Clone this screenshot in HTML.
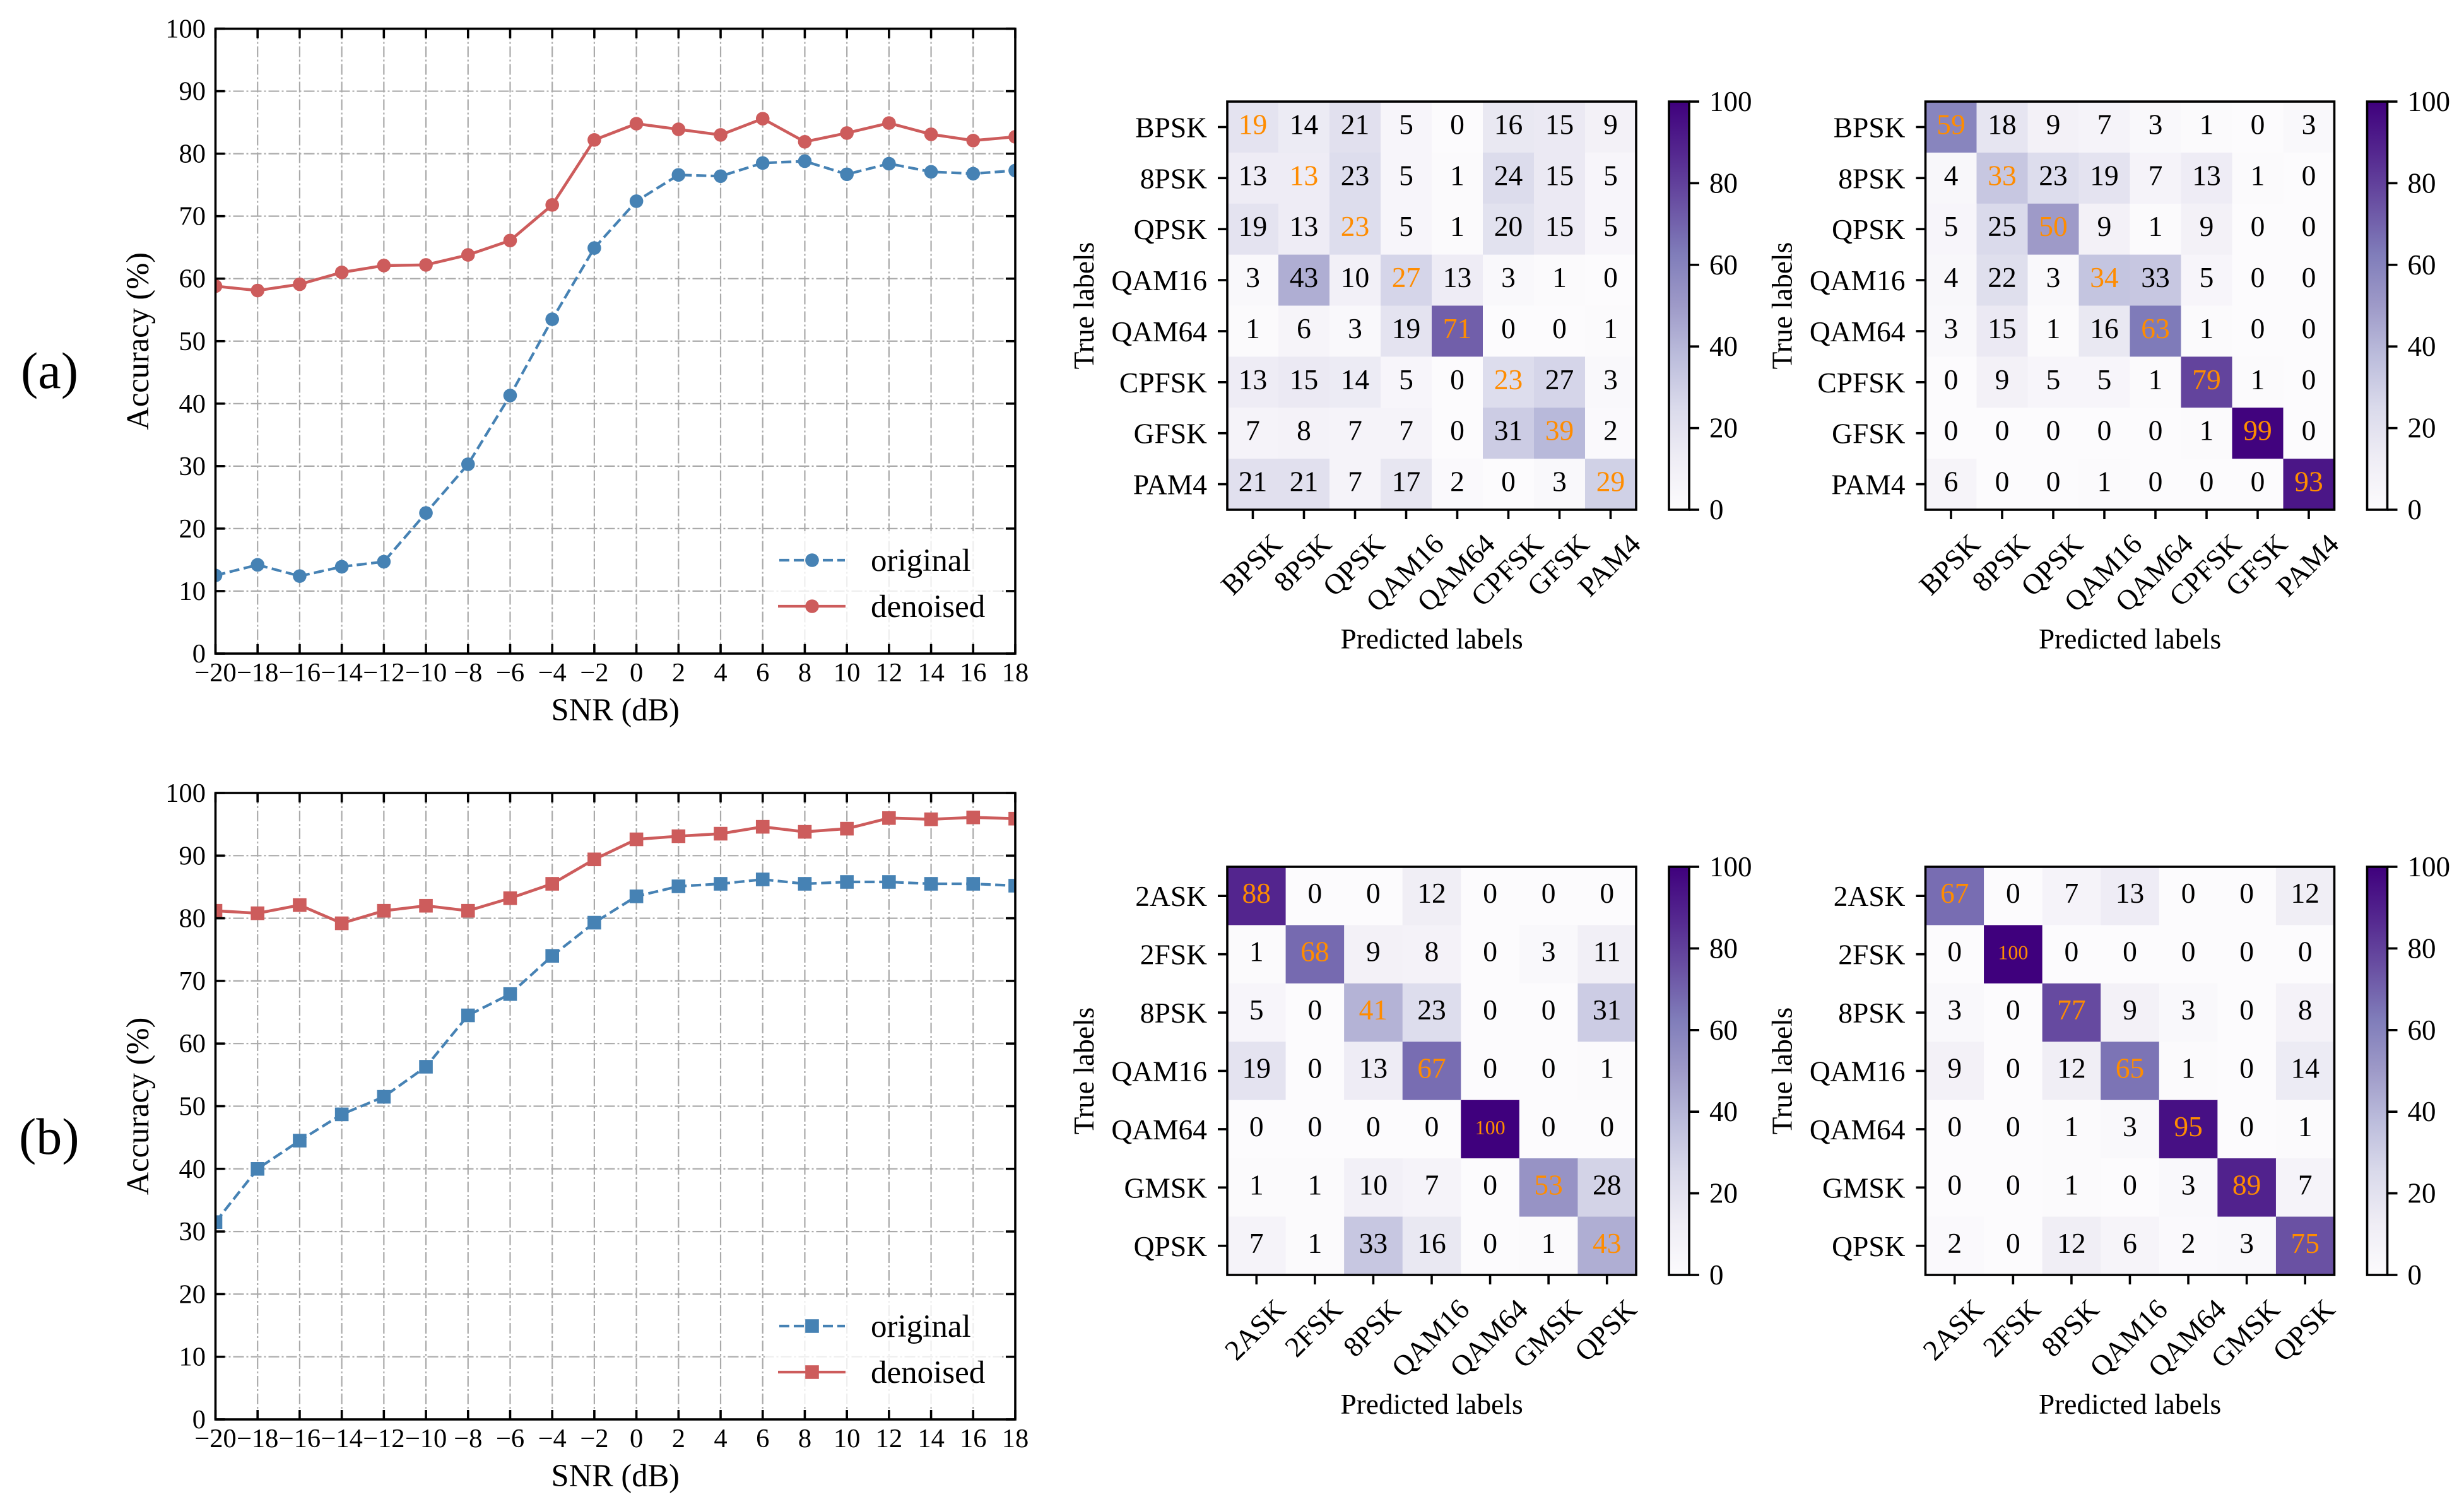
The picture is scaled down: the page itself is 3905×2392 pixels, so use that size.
<!DOCTYPE html>
<html lang="en">
<head>
<meta charset="utf-8">
<title>Accuracy curves and confusion matrices</title>
<style>
html,body{margin:0;padding:0;background:#fff;}
svg{display:block;font-family:"Liberation Serif",serif;}
</style>
</head>
<body>
<svg id="figure" xmlns="http://www.w3.org/2000/svg" width="3905" height="2392" viewBox="0 0 3905 2392">
  <defs id="defs">
    <linearGradient id="purples-gradient" x1="0" y1="1" x2="0" y2="0"></linearGradient>
  </defs>
  <rect x="0" y="0" width="3905" height="2392" fill="#fff"></rect>
  <text x="33" y="615" font-size="82" fill="#000">(a)</text>
  <text x="30" y="1829" font-size="82" fill="#000">(b)</text>
  <g id="line-chart-a"></g>
  <g id="line-chart-b"></g>
  <g id="matrix-a-original"></g>
  <g id="matrix-a-denoised"></g>
  <g id="matrix-b-original"></g>
  <g id="matrix-b-denoised"></g>
</svg>
<script>
/* ---------- data ---------- */
const snrValues = [-20,-18,-16,-14,-12,-10,-8,-6,-4,-2,0,2,4,6,8,10,12,14,16,18];
const accuracyTicks = [0,10,20,30,40,50,60,70,80,90,100];
const seriesNames = ['original','denoised'];

const originalA = [12.5,14.2,12.4,13.9,14.7,22.5,30.3,41.3,53.5,64.9,72.4,76.6,76.4,78.5,78.8,76.7,78.4,77.1,76.8,77.3];
const denoisedA = [58.8,58.1,59.1,61.0,62.1,62.2,63.8,66.1,71.8,82.2,84.8,83.9,83.0,85.6,81.9,83.3,84.9,83.1,82.1,82.7];
const originalB = [31.5,40.0,44.5,48.7,51.5,56.3,64.5,67.9,74.0,79.3,83.5,85.1,85.5,86.2,85.5,85.8,85.8,85.5,85.5,85.2];
const denoisedB = [81.2,80.8,82.1,79.2,81.2,82.0,81.2,83.2,85.5,89.4,92.6,93.1,93.5,94.6,93.8,94.3,96.0,95.8,96.1,95.9];

const classesA = ['BPSK','8PSK','QPSK','QAM16','QAM64','CPFSK','GFSK','PAM4'];
const classesB = ['2ASK','2FSK','8PSK','QAM16','QAM64','GMSK','QPSK'];
const colorbarTicks = [0,20,40,60,80,100];

const matrixAOriginal = [
  [19,14,21,5,0,16,15,9],
  [13,13,23,5,1,24,15,5],
  [19,13,23,5,1,20,15,5],
  [3,43,10,27,13,3,1,0],
  [1,6,3,19,71,0,0,1],
  [13,15,14,5,0,23,27,3],
  [7,8,7,7,0,31,39,2],
  [21,21,7,17,2,0,3,29]
];
const matrixADenoised = [
  [59,18,9,7,3,1,0,3],
  [4,33,23,19,7,13,1,0],
  [5,25,50,9,1,9,0,0],
  [4,22,3,34,33,5,0,0],
  [3,15,1,16,63,1,0,0],
  [0,9,5,5,1,79,1,0],
  [0,0,0,0,0,1,99,0],
  [6,0,0,1,0,0,0,93]
];
const matrixBOriginal = [
  [88,0,0,12,0,0,0],
  [1,68,9,8,0,3,11],
  [5,0,41,23,0,0,31],
  [19,0,13,67,0,0,1],
  [0,0,0,0,100,0,0],
  [1,1,10,7,0,53,28],
  [7,1,33,16,0,1,43]
];
const matrixBDenoised = [
  [67,0,7,13,0,0,12],
  [0,100,0,0,0,0,0],
  [3,0,77,9,3,0,8],
  [9,0,12,65,1,0,14],
  [0,0,1,3,95,0,1],
  [0,0,1,0,3,89,7],
  [2,0,12,6,2,3,75]
];

const purplesColors = ['#fcfbfd','#efedf5','#dadaeb','#bcbddc','#9e9ac8','#807dba','#6a51a3','#54278f','#3f007d'];

/* ---------- layout ---------- */
const NS = 'http://www.w3.org/2000/svg';
const SPINE = 3.6;
const BLUE = '#4682b4';
const RED = '#cd5c5c';
const ORANGE = '#ff8c00';

function make(tag, parent, attrs, content) {
  const node = document.createElementNS(NS, tag);
  for (const key in attrs) node.setAttribute(key, attrs[key]);
  if (content !== undefined) node.textContent = content;
  parent.appendChild(node);
  return node;
}

function linearAxis(d0, d1, r0, r1) {
  return v => r0 + (v - d0) / (d1 - d0) * (r1 - r0);
}

function purpleColor(value) {
  const t = Math.max(0, Math.min(1, value / 100)) * (purplesColors.length - 1);
  const i = Math.min(Math.floor(t), purplesColors.length - 2);
  const f = t - i;
  const a = purplesColors[i], b = purplesColors[i + 1];
  const channel = s => [1,3,5].map(p => parseInt(s.substr(p, 2), 16));
  const ca = channel(a), cb = channel(b);
  return 'rgb(' + ca.map((c, k) => Math.round(c + (cb[k] - c) * f)).join(',') + ')';
}

function drawLineChart(root, box, original, denoised, markerKind, clipId) {
  const x = linearAxis(-20, 18, box.left, box.right);
  const y = linearAxis(0, 100, box.bottom, box.top);

  const clip = make('clipPath', document.getElementById('defs'), {id: clipId});
  make('rect', clip, {x: box.left, y: box.top, width: box.right - box.left, height: box.bottom - box.top});

  accuracyTicks.forEach(v => {
    const g = make('line', root, {x1: box.left, x2: box.right, y1: y(v), y2: y(v), stroke: '#aaaaaa', 'stroke-width': 2.2, 'stroke-dasharray': '17 4 3 4'});
    
    
  });
  snrValues.forEach(v => {
    const g = make('line', root, {x1: x(v), x2: x(v), y1: box.top, y2: box.bottom, stroke: '#aaaaaa', 'stroke-width': 2.2, 'stroke-dasharray': '17 4 3 4'});
    
    
  });

  function drawMarker(parent, cx, cy, color) {
    if (markerKind === 'circle') {
      return make('circle', parent, {cx: cx, cy: cy, r: 10.8, fill: color});
    }
    return make('rect', parent, {x: cx - 10.8, y: cy - 10.8, width: 21.6, height: 21.6, fill: color});
  }

  const plot = make('g', root, {'clip-path': 'url(#' + clipId + ')'});
  
  

  [[original, BLUE, '16 7', 'original', 4.2], [denoised, RED, 'none', 'denoised', 4.6]].forEach(s => {
    const pts = s[0].map((v, i) => x(snrValues[i]) + ',' + y(v)).join(' ');
    const line = make('polyline', plot, {points: pts, fill: 'none', stroke: s[1], 'stroke-width': s[4], 'stroke-dasharray': s[2], 'stroke-linejoin': 'round'});
    
    
    s[0].forEach((v, i) => {
      const m = drawMarker(plot, x(snrValues[i]), y(v), s[1]);
      
      
    });
  });

  const legend = make('g', root, {});
  
  
  const legendBg = make('rect', legend, {x: 1212, y: box.bottom - 194, width: 376, height: 173, fill: '#fff', 'fill-opacity': 0.8});
  
  
  seriesNames.forEach((name, i) => {
    const ly = box.bottom - (i === 0 ? 148 : 75);
    const color = i === 0 ? BLUE : RED;
    const key = make('line', legend, {x1: i === 0 ? 1235 : 1233, x2: i === 0 ? 1339 : 1340, y1: ly, y2: ly, stroke: color, 'stroke-width': 4.2, 'stroke-dasharray': i === 0 ? '16 7' : 'none'});
    
    
    const keyMark = drawMarker(legend, 1287, ly, color);
    
    
    const label = make('text', legend, {x: 1380, y: ly + 17, 'font-size': 51, fill: '#000'}, name);
    
    
  });

  accuracyTicks.forEach(v => {
    [[box.left, box.left + 15], [box.right, box.right - 15]].forEach(p => {
      const t = make('line', root, {x1: p[0], x2: p[1], y1: y(v), y2: y(v), stroke: '#000', 'stroke-width': SPINE});
      
      
    });
    const label = make('text', root, {x: 326, y: y(v) + 14, 'font-size': 42.5, 'text-anchor': 'end', fill: '#000'}, String(v));
    
    
  });
  snrValues.forEach(v => {
    [[box.bottom, box.bottom - 15], [box.top, box.top + 15]].forEach(p => {
      const t = make('line', root, {x1: x(v), x2: x(v), y1: p[0], y2: p[1], stroke: '#000', 'stroke-width': SPINE});
      
      
    });
    const label = make('text', root, {x: x(v), y: box.bottom + 44, 'font-size': 42.5, 'text-anchor': 'middle', fill: '#000'}, String(v).replace('-', '\u2212'));
    
    
  });

  const frame = make('rect', root, {x: box.left, y: box.top, width: box.right - box.left, height: box.bottom - box.top, fill: 'none', stroke: '#000', 'stroke-width': SPINE});
  
  

  const xTitle = make('text', root, {x: (box.left + box.right) / 2, y: box.bottom + 106, 'font-size': 50.5, 'text-anchor': 'middle', fill: '#000'}, 'SNR (dB)');
  
  

  const midY = (box.top + box.bottom) / 2;
  const yTitle = make('text', root, {x: 235, y: midY, 'font-size': 50.5, 'text-anchor': 'middle', fill: '#000', transform: 'rotate(-90 235 ' + midY + ')'}, 'Accuracy (%)');
  
  
}

function drawMatrix(root, box, classes, matrix) {
  const n = classes.length;
  const cellX = linearAxis(0, n, box.left, box.right);
  const cellY = linearAxis(0, n, box.top, box.bottom);

  matrix.forEach((row, r) => {
    row.forEach((value, c) => {
      const cell = make('rect', root, {x: cellX(c), y: cellY(r), width: cellX(c + 1) - cellX(c) + 0.5, height: cellY(r + 1) - cellY(r) + 0.5, fill: purpleColor(value)});
      
      
    });
  });
  matrix.forEach((row, r) => {
    row.forEach((value, c) => {
      const small = value === 100;
      const label = make('text', root, {
        x: cellX(c + 0.5),
        y: cellY(r + 0.5) + (small ? 8 : 11),
        'font-size': small ? 32 : 45.5,
        'text-anchor': 'middle',
        fill: r === c ? ORANGE : '#000'
      }, String(value));
      
      
    });
  });

  const frame = make('rect', root, {x: box.left, y: box.top, width: box.right - box.left, height: box.bottom - box.top, fill: 'none', stroke: '#000', 'stroke-width': SPINE});
  
  

  classes.forEach((name, i) => {
    const cy = cellY(i + 0.5);
    const yt = make('line', root, {x1: box.left - 15, x2: box.left, y1: cy, y2: cy, stroke: '#000', 'stroke-width': SPINE});
    
    
    const yl = make('text', root, {x: box.left - 32, y: cy + 16, 'font-size': 45.5, 'text-anchor': 'end', fill: '#000'}, name);
    
    

    const cx = cellX(i + 0.5);
    const xt = make('line', root, {x1: cx, x2: cx, y1: box.bottom, y2: box.bottom + 15, stroke: '#000', 'stroke-width': SPINE});
    
    
    const xl = make('text', root, {x: 0, y: 15, 'font-size': 45.5, 'text-anchor': 'middle', fill: '#000'}, name);
    
    
    const w = xl.getComputedTextLength();
    const centerY = box.bottom + 36 + (w + 30) * Math.SQRT1_2 / 2;
    xl.setAttribute('transform', 'translate(' + (cx - 2) + ' ' + centerY + ') rotate(-45)');
  });

  const xTitle = make('text', root, {x: (box.left + box.right) / 2, y: box.bottom + 220, 'font-size': 45.5, 'text-anchor': 'middle', fill: '#000'}, 'Predicted labels');
  
  

  const midY = (box.top + box.bottom) / 2;
  const yTx = box.left - 212;
  const yTitle = make('text', root, {x: yTx, y: midY, 'font-size': 45.5, 'text-anchor': 'middle', fill: '#000', transform: 'rotate(-90 ' + yTx + ' ' + midY + ')'}, 'True labels');
  
  

  /* colorbar */
  const cbLeft = box.right + 52;
  const cbRight = cbLeft + 32;
  const cbY = linearAxis(0, 100, box.bottom, box.top);
  const bar = make('rect', root, {x: cbLeft, y: box.top, width: cbRight - cbLeft, height: box.bottom - box.top, fill: 'url(#purples-gradient)', stroke: '#000', 'stroke-width': SPINE});
  
  
  colorbarTicks.forEach(v => {
    const t = make('line', root, {x1: cbRight, x2: cbRight + 16, y1: cbY(v), y2: cbY(v), stroke: '#000', 'stroke-width': SPINE});
    
    
    const l = make('text', root, {x: cbRight + 32, y: cbY(v) + 15, 'font-size': 45, fill: '#000'}, String(v));
    
    
  });
}

const gradient = document.getElementById('purples-gradient');
purplesColors.forEach((color, i) => {
  make('stop', gradient, {offset: i / (purplesColors.length - 1), 'stop-color': color});
});

drawLineChart(document.getElementById('line-chart-a'), {left: 341.5, right: 1609, top: 45.5, bottom: 1036}, originalA, denoisedA, 'circle', 'clip-a');
drawLineChart(document.getElementById('line-chart-b'), {left: 341.5, right: 1609, top: 1257, bottom: 2250}, originalB, denoisedB, 'square', 'clip-b');
drawMatrix(document.getElementById('matrix-a-original'), {left: 1945, right: 2593, top: 161, bottom: 808}, classesA, matrixAOriginal);
drawMatrix(document.getElementById('matrix-a-denoised'), {left: 3051.5, right: 3699.5, top: 161, bottom: 808}, classesA, matrixADenoised);
drawMatrix(document.getElementById('matrix-b-original'), {left: 1945, right: 2593, top: 1374, bottom: 2021}, classesB, matrixBOriginal);
drawMatrix(document.getElementById('matrix-b-denoised'), {left: 3051.5, right: 3699.5, top: 1374, bottom: 2021}, classesB, matrixBDenoised);
</script>
</body>
</html>
